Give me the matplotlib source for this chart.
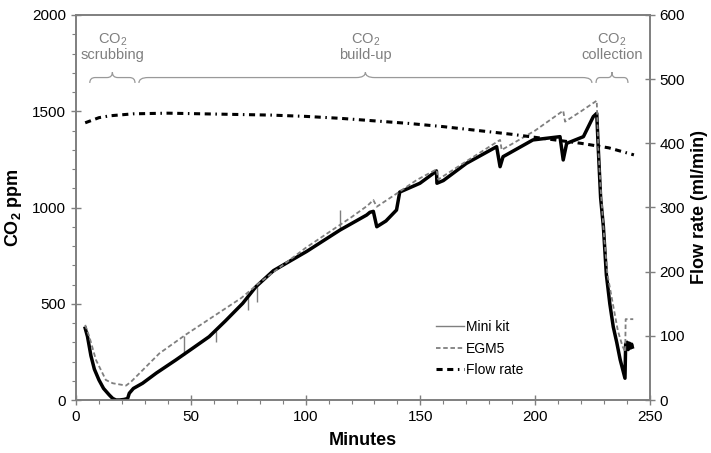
import numpy as np
import matplotlib
matplotlib.use('Agg')
from matplotlib import pyplot as plt
from matplotlib.path import Path
from matplotlib.patches import PathPatch
from matplotlib.lines import Line2D

plt.rcParams['font.family'] = ['Liberation Sans', 'DejaVu Sans']
plt.rcParams['mathtext.default'] = 'regular'

# Mini kit CO2 (ppm) vs minutes
mini_t = [4, 5, 6.5, 8, 10, 12, 14.5, 16, 17.4, 19, 21, 22.5, 23.2, 25, 29, 35,
          43.5, 50, 58, 65, 72.6, 78.4, 86, 100.5, 115, 126.6, 128, 129.5,
          131, 135, 139.6, 141, 149.8, 155.6, 157, 157.2, 160, 170, 183.2, 184.7,
          186, 199, 210.8, 212.2, 213.7, 221, 225.3, 226.8, 227.5, 228.5, 229.7,
          231, 232.5, 234, 235.5, 237, 239.1, 239.4, 240, 240.5, 241, 241.5, 242, 242.3]
mini_ppm = [373, 330, 230, 160, 104, 60, 26, 8, 0, 0, 3, 8, 35, 60, 87, 140,
            208, 262, 329, 410, 502, 589, 672, 772, 883, 961, 975, 980,
            900, 930, 987, 1080, 1126, 1177, 1190, 1126, 1140, 1229, 1316, 1212,
            1264, 1351, 1368, 1247, 1333, 1368, 1472, 1489, 1300, 1050, 900,
            650, 500, 380, 300, 210, 113, 290, 300, 262, 295, 270, 290, 275]

# isolated spikes in the Mini kit trace
spike_t = [47, 61, 75, 79, 115]
spike_lo = [236, 300, 470, 510, 883]
spike_hi = [330, 360, 535, 598, 985]

# EGM5 CO2 (ppm)
egm_t = [4, 5.8, 8.7, 13, 16, 21.8, 24, 36.3, 48, 64, 72, 80, 90, 100, 110, 120,
         127, 129.5, 131, 140, 148.4, 157, 157.8, 170, 184.7, 185.4, 200, 212.2,
         213, 220, 226.8, 227.5, 228.5, 230, 231.5, 233.5, 236, 238, 239.2, 239.4, 242.7]
egm_ppm = [390, 329, 208, 104, 87, 75, 95, 242, 341, 467, 530, 610, 700, 790, 870, 950,
           1010, 1039, 1004, 1075, 1143, 1198, 1146, 1240, 1351, 1299, 1400, 1503,
           1446, 1500, 1555, 1300, 1100, 850, 650, 520, 360, 280, 250, 420, 420]

# Flow rate (ml/min)
flow_t = [4, 10, 15, 25, 40, 55, 70, 85, 100, 115, 130, 145, 160, 175, 190, 205, 220, 232, 243]
flow_val = [432, 440, 443, 446, 447, 446, 445, 444, 442, 439, 435, 431, 426, 420, 414, 407, 400, 393, 382]

# phase annotations: (start, end, label)
phases = [(6, 25.7, 'CO$_2$\nscrubbing'),
          (27.4, 224.7, 'CO$_2$\nbuild-up'),
          (226.5, 240.4, 'CO$_2$\ncollection')]

grey = '#7f7f7f'
flow_dash = (2, 1.5, 2, 1.5, 0.5, 1.5)

fig = plt.figure(figsize=(7.11, 4.53), dpi=100)
ax = fig.add_axes([76/711, 53/453, 574/711, 385/453])
ax2 = ax.twinx()

ax.vlines(spike_t, spike_lo, spike_hi, color=grey, lw=1, zorder=2)
ax.plot(mini_t, mini_ppm, color='black', lw=2.5, zorder=3)
ax.plot(egm_t, egm_ppm, color=grey, lw=1.3, dashes=(2.5, 1.5), zorder=4)
ax2.plot(flow_t, flow_val, color='black', lw=2.2, dashes=flow_dash)


def brace(axis, x0, x1, y, h):
    xm = (x0 + x1) / 2
    d = min(4.0, (x1 - x0) * 0.12)
    verts = [(x0, y - h), (x0, y), (x0 + d, y),
             (xm - d, y), (xm, y), (xm, y + h),
             (xm, y), (xm + d, y),
             (x1 - d, y), (x1, y), (x1, y - h)]
    codes = [Path.MOVETO, Path.CURVE3, Path.CURVE3,
             Path.LINETO, Path.CURVE3, Path.CURVE3,
             Path.CURVE3, Path.CURVE3,
             Path.LINETO, Path.CURVE3, Path.CURVE3]
    axis.add_patch(PathPatch(Path(verts, codes), fc='none', ec='#999999', lw=0.9))


for x0, x1, lab in phases:
    brace(ax, x0, x1, 1675, 28)
    ax.text((x0 + x1) / 2, 1835, lab, ha='center', va='center', color=grey,
            fontsize=10.5, linespacing=1.05)

ax.set_xlim(0, 250)
ax.set_ylim(0, 2000)
ax2.set_ylim(0, 600)
ax.set_xticks(np.arange(0, 251, 50))
ax.set_xticks(np.arange(0, 251, 10), minor=True)
ax.set_yticks(np.arange(0, 2001, 500))
ax.set_yticks(np.arange(0, 2001, 100), minor=True)
ax2.set_yticks(np.arange(0, 601, 100))

for a in (ax, ax2):
    for s in a.spines.values():
        s.set_color(grey)
        s.set_linewidth(1.2)
    a.tick_params(which='major', direction='inout', length=7, width=1, color=grey,
                  labelsize=11, labelcolor='black')
    a.tick_params(which='minor', direction='out', length=3, width=0.8, color=grey)

ax.set_xlabel('Minutes', fontsize=13, fontweight='bold', labelpad=6)
ax.set_ylabel('CO$_2$ ppm', fontsize=13, fontweight='bold', labelpad=6)
ax2.set_ylabel('Flow rate (ml/min)', fontsize=13, fontweight='bold', labelpad=4)

handles = [Line2D([], [], color=grey, lw=1),
           Line2D([], [], color=grey, lw=1.3, dashes=(2.5, 1.5)),
           Line2D([], [], color='black', lw=2.2, dashes=flow_dash)]
fig.legend(handles, ['Mini kit', 'EGM5', 'Flow rate'], loc='upper left',
           bbox_to_anchor=(436/711, 1 - 320/453), frameon=False, fontsize=10,
           handlelength=2.0, handletextpad=0.15, labelspacing=0.55,
           borderpad=0, borderaxespad=0)

fig.savefig('out.png', dpi=100)
